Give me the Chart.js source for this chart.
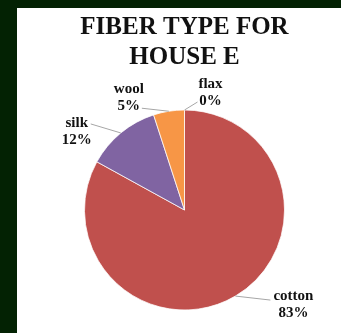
<!DOCTYPE html>
<html>
<head>
<meta charset="utf-8">
<script src="https://cdn.jsdelivr.net/npm/chart.js@4/dist/chart.umd.min.js"></script>
<style>
  html, body { margin: 0; padding: 0; background: #032203; }
  body { width: 341px; height: 333px; position: relative; overflow: hidden; }
  #box { position: absolute; left: 17px; top: 8px; width: 324px; height: 325px; background: #fff; }
</style>
</head>
<body>
<div id="box"><canvas id="grafico" width="324" height="325"></canvas></div>
<script>
// dados
const categorias = ['cotton', 'silk', 'wool', 'flax'];
const valores = [83, 12, 5, 0];
const rotulos = ['83%', '12%', '5%', '0%'];
const cores = ['#C0504D', '#8064A2', '#F79646', '#4BACC6'];

// onde fica cada rotulo em relacao ao ponto na borda da fatia
const posRotulos = [
  { dx: 58, dy: 4, lx: 35, ly: 4 },
  { dx: -44, dy: -6, lx: -30, ly: -9 },
  { dx: -40, dy: -18, lx: -27, ly: -3 },
  { dx: 26, dy: -22, lx: 13, ly: -8 }
];

const rotulosPlugin = {
  id: 'rotulos',
  afterDatasetsDraw(chart) {
    const ctx = chart.ctx;
    const meta = chart.getDatasetMeta(0);
    ctx.save();
    meta.data.forEach(function(arc, i) {
      const p = arc.getProps(['x', 'y', 'startAngle', 'endAngle', 'outerRadius'], true);
      const meio = (p.startAngle + p.endAngle) / 2;
      const ax = p.x + Math.cos(meio) * p.outerRadius;
      const ay = p.y + Math.sin(meio) * p.outerRadius;
      const pos = posRotulos[i];
      ctx.strokeStyle = '#a6a6a6';
      ctx.lineWidth = 1;
      ctx.beginPath();
      ctx.moveTo(ax + pos.lx, ay + pos.ly);
      ctx.lineTo(ax, ay);
      ctx.stroke();
      ctx.fillStyle = '#111111';
      ctx.font = 'bold 15px "Liberation Serif"';
      ctx.textAlign = 'center';
      ctx.textBaseline = 'alphabetic';
      ctx.fillText(categorias[i], ax + pos.dx, ay + pos.dy);
      ctx.fillText(rotulos[i], ax + pos.dx, ay + pos.dy + 17);
    });
    ctx.restore();
  }
};

const ctx = document.getElementById('grafico').getContext('2d');
new Chart(ctx, {
  type: 'pie',
  data: {
    labels: categorias,
    datasets: [{
      data: valores,
      backgroundColor: cores,
      borderColor: '#ffffff',
      borderWidth: 0.75,
      hoverOffset: 0
    }]
  },
  options: {
    responsive: false,
    animation: false,
    radius: 100,
    layout: { padding: { left: 11, right: 0, top: 0, bottom: 0 } },
    plugins: {
      legend: { display: false },
      tooltip: { enabled: false },
      title: {
        display: true,
        text: ['FIBER TYPE FOR', 'HOUSE E'],
        color: '#111111',
        font: { family: 'Liberation Serif', weight: 'bold', size: 25, lineHeight: 1.2 },
        padding: { top: 4.5, bottom: 14.5 }
      }
    }
  },
  plugins: [rotulosPlugin]
});
</script>
</body>
</html>
